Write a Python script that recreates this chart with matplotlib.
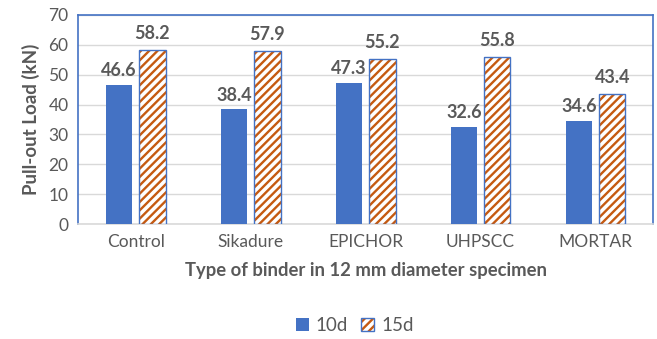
import numpy as np
import matplotlib.pyplot as plt
from matplotlib.patches import Patch

plt.rcParams['font.family'] = ['Lato', 'DejaVu Sans']
plt.rcParams['hatch.linewidth'] = 1.7

# data
binders = ['Control', 'Sikadure', 'EPICHOR', 'UHPSCC', 'MORTAR']
load_10d = [46.6, 38.4, 47.3, 32.6, 34.6]
load_15d = [58.2, 57.9, 55.2, 55.8, 43.4]

blue = '#4472C4'
orange = '#C55A11'
grey = '#595959'

fig = plt.figure(figsize=(6.57, 3.39), dpi=100)
ax = fig.add_axes([0.119, 0.339, 0.875, 0.617])

x = np.arange(len(binders))
w = 0.23
off = 0.145

ax.bar(x - off, load_10d, w, color=blue, zorder=3)
ax.bar(x + off, load_15d, w, facecolor='white', edgecolor=orange,
       hatch='////', linewidth=0, zorder=3)
ax.bar(x + off, load_15d, w, fill=False, edgecolor=blue, linewidth=1.0, zorder=4)

for xi, v in zip(x - off, load_10d):
    ax.annotate(f'{v:.1f}', (xi, v), xytext=(0, 4), textcoords='offset points',
                ha='center', va='bottom', fontsize=13, fontweight='bold', color=grey)
for xi, v in zip(x + off, load_15d):
    ax.annotate(f'{v:.1f}', (xi, v), xytext=(0, 6), textcoords='offset points',
                ha='center', va='bottom', fontsize=13, fontweight='bold', color=grey)

ax.set_xlim(-0.5, len(binders) - 0.5)
ax.set_ylim(0, 70)
ax.set_yticks(range(0, 71, 10))
ax.set_xticks(x)
ax.set_xticklabels(binders)
ax.tick_params(axis='both', length=0, labelsize=12.5, labelcolor=grey, pad=7)
ax.grid(axis='y', color='#D9D9D9', linewidth=1, zorder=0)
for s in ax.spines.values():
    s.set_color('#4472C4')
    s.set_linewidth(1.2)
ax.spines['bottom'].set_color('#D9D9D9')

ax.set_ylabel('Pull-out Load (kN)', fontsize=13.5, fontweight='bold', color=grey, labelpad=6)
ax.set_xlabel('Type of binder in 12 mm diameter specimen', fontsize=13.3,
              fontweight='bold', color=grey, labelpad=9)

h1 = Patch(facecolor=blue)
h2a = Patch(facecolor='white', edgecolor=orange, hatch='////', linewidth=0)
h2b = Patch(fill=False, edgecolor=blue, linewidth=1.0)
fig.legend([h1, (h2a, h2b)], ['10d', '15d'], loc='center', bbox_to_anchor=(0.54, 0.04),
           ncol=2, frameon=False, fontsize=13.5, labelcolor=grey,
           handlelength=0.7, handleheight=0.7, handletextpad=0.35, columnspacing=0.7)

fig.savefig('out.png', dpi=100)
